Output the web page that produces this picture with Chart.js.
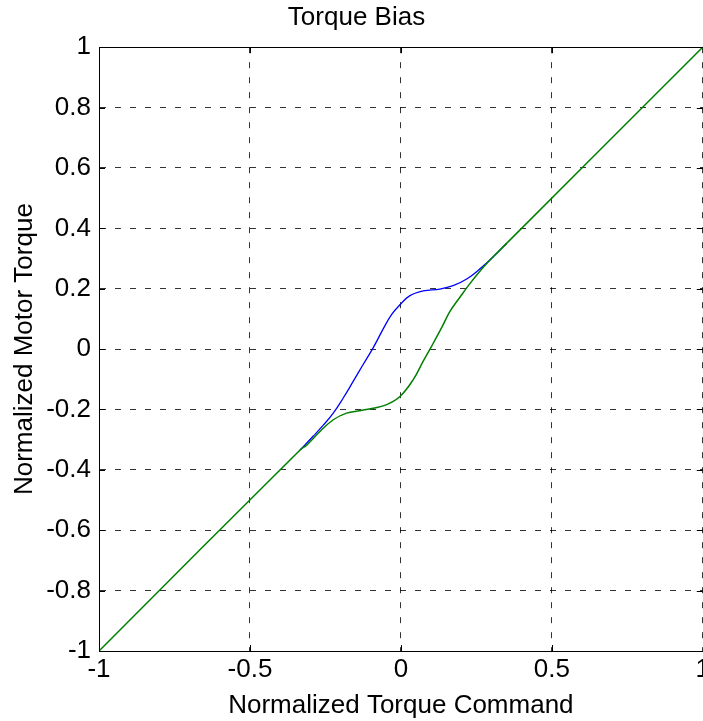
<!DOCTYPE html>
<html>
<head>
<meta charset="utf-8">
<title>Torque Bias</title>
<script src="https://cdn.jsdelivr.net/npm/chart.js@4/dist/chart.umd.min.js"></script>
<style>
    html, body { margin: 0; padding: 0; background: #fff; overflow: hidden; }
    #chart { display: block; }
</style>
</head>
<body>
<canvas id="chart" width="713" height="721"></canvas>
<script>
// values (blue only shows where it leaves the diagonal)
var cmdBlue = [-0.334, -0.290, -0.257, -0.224, -0.191, -0.158, -0.125, -0.092, -0.059, -0.031, -0.003, 0.030, 0.074, 0.129, 0.173, 0.218, 0.262, 0.306, 0.350];
var torqueBlue = [-0.334, -0.288, -0.252, -0.212, -0.162, -0.107, -0.051, 0.004, 0.066, 0.114, 0.147, 0.177, 0.193, 0.199, 0.21, 0.232, 0.266, 0.306, 0.350];

var cmdGreen = [-1, -0.334, -0.312, -0.268, -0.224, -0.180, -0.136, -0.092, -0.047, -0.003, 0.041, 0.074, 0.102, 0.135, 0.162, 0.195, 0.228, 0.273, 0.317, 1];
var torqueGreen = [-1, -0.334, -0.318, -0.273, -0.234, -0.212, -0.204, -0.196, -0.184, -0.157, -0.101, -0.04, 0.01, 0.071, 0.124, 0.171, 0.216, 0.271, 0.317, 1];

var xTickLabels = ['-1', '-0.5', '0', '0.5', '1'];
var yTickLabels = ['-1', '-0.8', '-0.6', '-0.4', '-0.2', '0', '0.2', '0.4', '0.6', '0.8', '1'];

function toPoints(xs, ys) {
    var pts = [];
    for (var i = 0; i < xs.length; i++) pts.push({ x: xs[i], y: ys[i] });
    return pts;
}

// box around the plot plus matlab style inward ticks
var boxPlugin = {
    id: 'box',
    afterDraw: function (chart) {
        var ctx = chart.ctx;
        var a = chart.chartArea;
        var xs = chart.scales.x, ys = chart.scales.y;
        ctx.save();
        ctx.strokeStyle = '#000';
        ctx.lineWidth = 1;
        ctx.setLineDash([]);
        ctx.beginPath();
        xs.ticks.forEach(function (t) {
            var px = Math.round(xs.getPixelForValue(t.value)) + 0.5;
            ctx.moveTo(px, a.bottom); ctx.lineTo(px, a.bottom - 6);
            ctx.moveTo(px, a.top); ctx.lineTo(px, a.top + 6);
        });
        ys.ticks.forEach(function (t) {
            var py = Math.round(ys.getPixelForValue(t.value)) + 0.5;
            ctx.moveTo(a.left, py); ctx.lineTo(a.left + 6, py);
            ctx.moveTo(a.right, py); ctx.lineTo(a.right - 6, py);
        });
        ctx.stroke();
        ctx.strokeRect(Math.round(a.left) + 0.5, Math.round(a.top) + 0.5,
            Math.round(a.right - a.left), Math.round(a.bottom - a.top));
        ctx.restore();
    }
};

Chart.defaults.font.family = '"Liberation Sans", Arial, sans-serif';
Chart.defaults.color = '#000';

new Chart(document.getElementById('chart').getContext('2d'), {
    type: 'scatter',
    data: {
        datasets: [{
            label: 'green',
            data: toPoints(cmdGreen, torqueGreen),
            showLine: true,
            borderColor: '#008000',
            borderWidth: 1.5,
            pointRadius: 0,
            tension: 0.4,
            order: 0
        }, {
            label: 'blue',
            data: toPoints(cmdBlue, torqueBlue),
            showLine: true,
            borderColor: '#0000ff',
            borderWidth: 1.3,
            pointRadius: 0,
            tension: 0.4,
            order: 1
        }]
    },
    options: {
        responsive: false,
        animation: false,
        layout: { padding: 0 },
        plugins: {
            legend: { display: false },
            tooltip: { enabled: false },
            title: {
                display: true,
                text: 'Torque Bias',
                font: { size: 26, weight: 'normal' },
                padding: { top: 2, bottom: 14 }
            }
        },
        scales: {
            x: {
                type: 'linear',
                min: -1,
                max: 1,
                afterFit: function (s) { s.height = 721 - 651; },
                ticks: {
                    stepSize: 0.5,
                    font: { size: 26 },
                    padding: 3,
                    maxRotation: 0,
                    callback: function (v, i) { return xTickLabels[i]; }
                },
                grid: {
                    color: 'rgba(0,0,0,0.8)',
                    drawTicks: false
                },
                border: { display: true, color: '#000', dash: [6, 9] },
                title: {
                    display: true,
                    text: 'Normalized Torque Command',
                    font: { size: 26 },
                    padding: { top: 0, bottom: 0 }
                }
            },
            y: {
                type: 'linear',
                min: -1,
                max: 1,
                afterFit: function (s) { s.width = 99; },
                ticks: {
                    stepSize: 0.2,
                    font: { size: 26 },
                    padding: 8,
                    callback: function (v, i) { return yTickLabels[i]; }
                },
                grid: {
                    color: 'rgba(0,0,0,0.8)',
                    drawTicks: false
                },
                border: { display: true, color: '#000', dash: [6, 9] },
                title: {
                    display: true,
                    text: 'Normalized Motor Torque',
                    font: { size: 26 },
                    padding: { top: 9, bottom: 0 }
                }
            }
        }
    },
    plugins: [boxPlugin]
});
</script>
</body>
</html>
